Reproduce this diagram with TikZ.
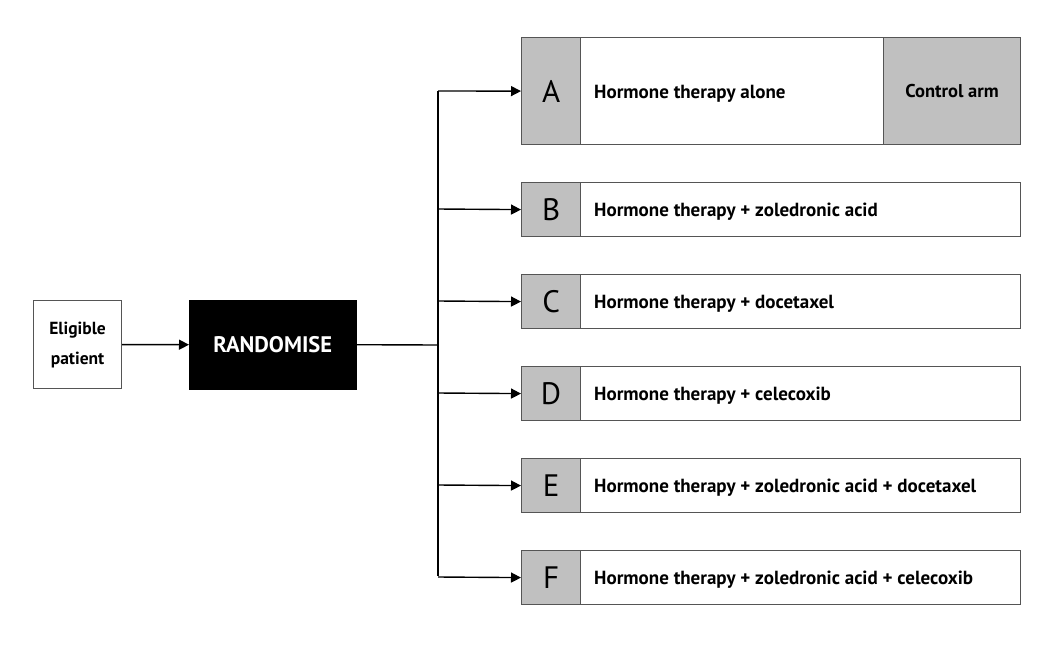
\documentclass[tikz,border=0pt]{standalone}
\usepackage{fontspec}
\setmainfont{PT Sans}
\usetikzlibrary{arrows.meta}
\definecolor{cellgrey}{HTML}{C0C0C0}
\definecolor{edge}{HTML}{555555}
\begin{document}
\begin{tikzpicture}[x=1pt,y=-1pt,
  armbox/.style={draw=edge,line width=1.2pt,fill=white,rectangle,inner sep=0pt,anchor=north west},
  letterbox/.style={draw=edge,line width=1.2pt,fill=cellgrey,rectangle,inner sep=0pt,anchor=north west,minimum width=59pt,font=\fontsize{31}{33}\selectfont},
  armtext/.style={anchor=base west,font=\bfseries\fontsize{19}{22}\selectfont,inner sep=0pt},
  conn/.style={line width=1.4pt,black},
  arr/.style={conn,-{Triangle[length=10pt,width=10pt]}}
]
\useasboundingbox (0,0) rectangle (1061,646);
% eligible
\node[draw=edge,line width=1.2pt,minimum width=88pt,minimum height=88pt,inner sep=0pt,anchor=north west,align=center,font=\bfseries\fontsize{17.5}{30}\selectfont] (elig) at (33,300) {Eligible\\patient};
\node[draw=black,fill=black,minimum width=167pt,minimum height=89pt,inner sep=0pt,anchor=north west,text=white,font=\bfseries\fontsize{22.5}{26}\selectfont] (rand) at (189,300) {RANDOMISE};
\draw[arr] (elig.east) -- (rand.west);
\coordinate (trunk) at (438,345);
\coordinate (ttop) at (438,91);
\coordinate (tbot) at (438,576);
\draw[conn] (rand.east) -- (trunk);
\draw[conn] (ttop) -- (tbot);
% arm A
\node[armbox,minimum width=499pt,minimum height=107pt] (boxA) at (521,37) {};
\node[letterbox,minimum height=107pt] (letA) at (521,37) {A};
\node[armbox,fill=cellgrey,minimum width=137pt,minimum height=107pt,font=\bfseries\fontsize{18.5}{22}\selectfont] (ctrl) at (883,37) {Control arm};
\node[armtext] (txtA) at (594,98) {Hormone therapy alone};
\draw[arr] (ttop) -- (letA.west);
% other arms
\foreach \L/\y/\t in {B/182/Hormone therapy + zoledronic acid,C/274/Hormone therapy + docetaxel,D/366/Hormone therapy + celecoxib,E/458/Hormone therapy + zoledronic acid + docetaxel,F/550/Hormone therapy + zoledronic acid + celecoxib}{
  \node[armbox,minimum width=499pt,minimum height=54pt] (box\L) at (521,\y) {};
  \node[letterbox,minimum height=54pt] (let\L) at (521,\y) {\L};
  \node[armtext] (txt\L) at (594,\y+34) {\t};
  \draw[arr] (438,\y+27) -- (let\L.west);
}
\end{tikzpicture}
\end{document}
